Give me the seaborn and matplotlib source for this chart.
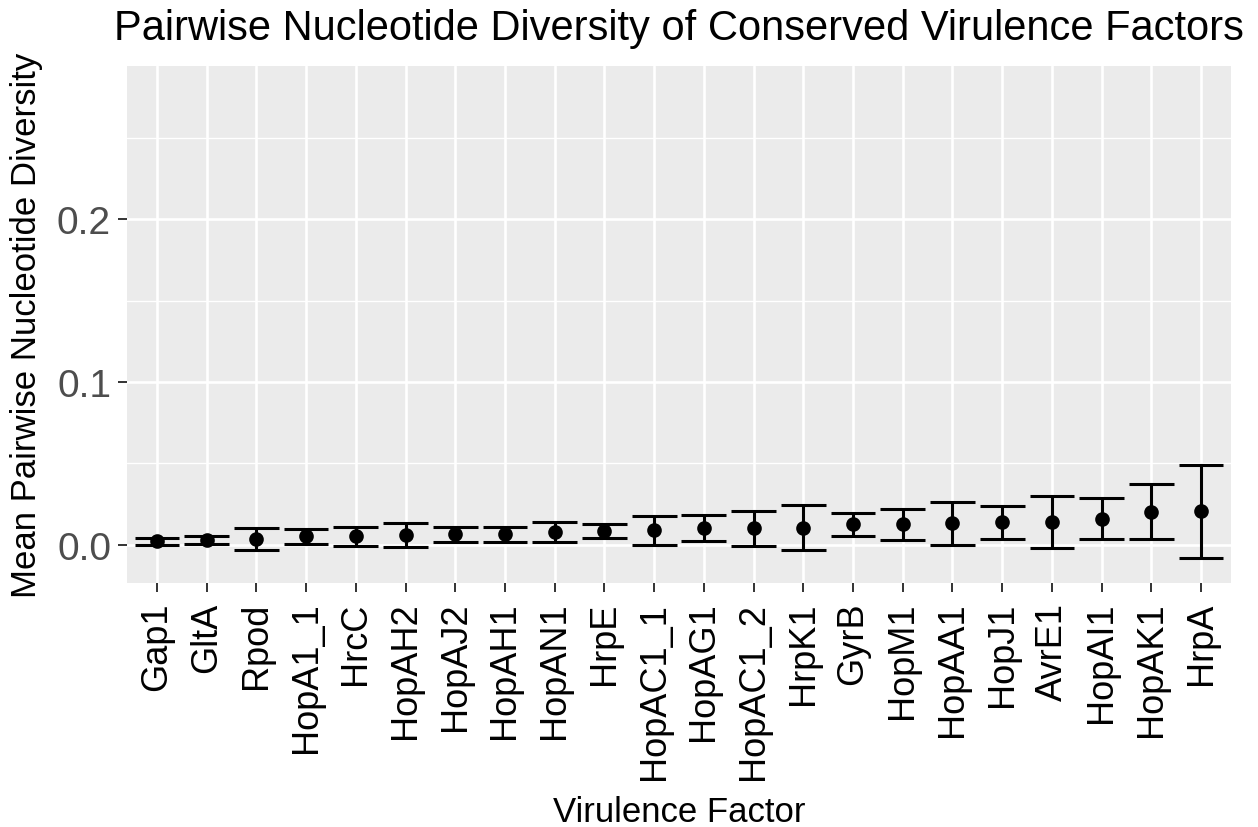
import numpy as np
import pandas as pd
import seaborn as sns
import matplotlib
matplotlib.use("Agg")
import matplotlib.pyplot as plt
from matplotlib.ticker import MultipleLocator

# Mean pairwise nucleotide diversity per virulence factor, with error half-widths
factors = ["Gap1", "GltA", "Rpod", "HopA1_1", "HrcC", "HopAH2", "HopAJ2", "HopAH1",
           "HopAN1", "HrpE", "HopAC1_1", "HopAG1", "HopAC1_2", "HrpK1", "GyrB",
           "HopM1", "HopAA1", "HopJ1", "AvrE1", "HopAI1", "HopAK1", "HrpA"]
mean_pi = [0.0020, 0.0030, 0.0034, 0.0052, 0.0052, 0.0060, 0.0065, 0.0065,
           0.0078, 0.0083, 0.0089, 0.0104, 0.0101, 0.0106, 0.0125,
           0.0125, 0.0132, 0.0137, 0.0138, 0.0161, 0.0204, 0.0205]
err_pi = [0.0023, 0.0026, 0.0067, 0.0045, 0.0058, 0.0071, 0.0046, 0.0047,
          0.0060, 0.0044, 0.0089, 0.0080, 0.0108, 0.0140, 0.0070,
          0.0094, 0.0132, 0.0099, 0.0159, 0.0126, 0.0169, 0.0284]
y_ticks = [0.0, 0.1, 0.2]

df = pd.DataFrame({"factor": factors, "mean": mean_pi, "err": err_pi})
df["lo"] = df["mean"] - df["err"]
df["hi"] = df["mean"] + df["err"]

sns.set_theme(style="darkgrid", rc={
    "axes.facecolor": "#EBEBEB",
    "grid.color": "white",
    "axes.edgecolor": "none",
    "figure.facecolor": "white",
})
plt.rcParams["font.family"] = ["Liberation Sans", "DejaVu Sans"]

fig = plt.figure(figsize=(12.58, 8.28), dpi=100)
ax = fig.add_axes([0.101, 0.2947, 0.8775, 0.6247])

# error bars: vertical segment plus caps 0.9 category-widths wide
xpos = np.arange(len(df))
ax.vlines(xpos, df["lo"], df["hi"], color="black", linewidth=2.2, zorder=3)
ax.hlines(df["lo"], xpos - 0.45, xpos + 0.45, color="black", linewidth=2.2, zorder=3)
ax.hlines(df["hi"], xpos - 0.45, xpos + 0.45, color="black", linewidth=2.2, zorder=3)

sns.pointplot(data=df, x="factor", y="mean", order=factors, color="black",
              linestyle="none", errorbar=None, markers="o", markersize=8.5,
              ax=ax, zorder=4)

ax.set_xlim(-0.6, len(factors) - 0.4)
ax.set_ylim(-0.0235, 0.2944)
ax.set_yticks(y_ticks)
ax.set_yticklabels([f"{v:.1f}" for v in y_ticks])
ax.yaxis.set_minor_locator(MultipleLocator(0.05))

ax.grid(which="major", color="white", linewidth=1.9)
ax.grid(which="minor", axis="y", color="white", linewidth=0.95)
ax.grid(which="major", axis="x", color="white", linewidth=1.9)
ax.set_axisbelow(True)

ax.tick_params(axis="x", which="major", length=6.5, width=1.4, color="#333333",
               labelsize=26, labelcolor="black", pad=7, rotation=90,
               bottom=True)
ax.tick_params(axis="y", which="major", length=6.5, width=1.4, color="#333333",
               labelsize=28, labelcolor="#4D4D4D", pad=5, left=True)
ax.tick_params(axis="y", which="minor", length=0, left=False)
for lab in ax.get_xticklabels():
    lab.set_horizontalalignment("center")
    lab.set_verticalalignment("top")

ax.set_xlabel("Virulence Factor", fontsize=25, color="black", labelpad=12)
ax.set_ylabel("Mean Pairwise Nucleotide Diversity", fontsize=25, color="black",
              labelpad=10)
ax.set_title("Pairwise Nucleotide Diversity of Conserved Virulence Factors",
             fontsize=30, color="black", pad=19)

fig.savefig("out.png", dpi=100)
